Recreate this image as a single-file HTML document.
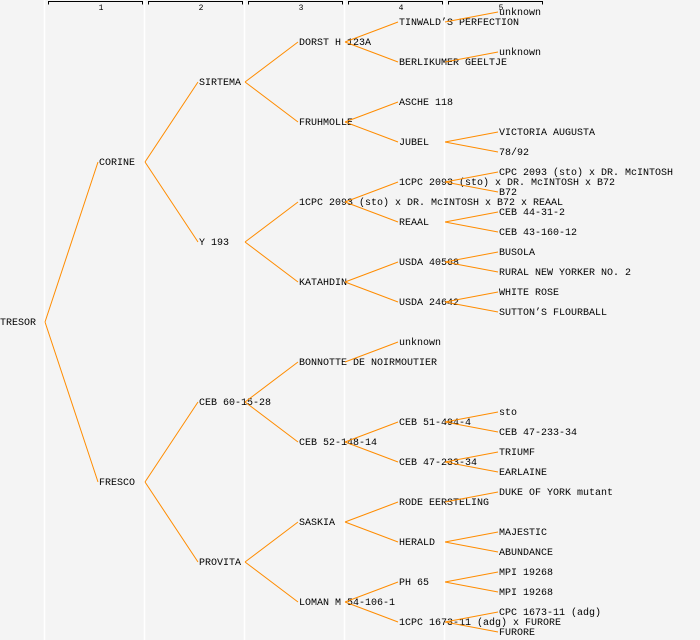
<!DOCTYPE html>
<html><head><meta charset="utf-8"><style>
html,body{margin:0;padding:0;background:#f4f4f4;}
svg{display:block;}
text{font-family:"Liberation Mono",monospace;font-size:10px;fill:#000;}
.h{font-size:8px;}
</style></head><body>
<svg width="700" height="640" viewBox="0 0 700 640" xmlns="http://www.w3.org/2000/svg">
<rect width="700" height="640" fill="#f4f4f4"/>
<g stroke="#ffffff" stroke-width="1.5">
<line x1="44.5" y1="0" x2="44.5" y2="640"/>
<line x1="144.5" y1="0" x2="144.5" y2="640"/>
<line x1="244.5" y1="0" x2="244.5" y2="640"/>
<line x1="344.5" y1="0" x2="344.5" y2="640"/>
<line x1="444.5" y1="0" x2="444.5" y2="640"/>
</g>
<g stroke="#000" stroke-width="1" fill="none">
<path d="M48.5 4.5V1.5H142.5V4.5"/>
<path d="M148.5 4.5V1.5H242.5V4.5"/>
<path d="M248.5 4.5V1.5H342.5V4.5"/>
<path d="M348.5 4.5V1.5H442.5V4.5"/>
<path d="M448.5 4.5V1.5H542.5V4.5"/>
</g>
<g class="h" text-anchor="middle">
<text class="h" x="101" y="10">1</text>
<text class="h" x="201" y="10">2</text>
<text class="h" x="301" y="10">3</text>
<text class="h" x="401" y="10">4</text>
<text class="h" x="501" y="10">5</text>
</g>
<g transform="translate(0,-1)">
<text x="0" y="326">TRESOR</text>
<text x="99" y="166">CORINE</text>
<text x="99" y="486">FRESCO</text>
<text x="199" y="86">SIRTEMA</text>
<text x="199" y="246">Y 193</text>
<text x="199" y="406">CEB 60-15-28</text>
<text x="199" y="566">PROVITA</text>
<text x="299" y="46">DORST H 123A</text>
<text x="299" y="126">FRUHMOLLE</text>
<text x="299" y="206">1CPC 2093 (sto) x DR. McINTOSH x B72 x REAAL</text>
<text x="299" y="286">KATAHDIN</text>
<text x="299" y="366">BONNOTTE DE NOIRMOUTIER</text>
<text x="299" y="446">CEB 52-148-14</text>
<text x="299" y="526">SASKIA</text>
<text x="299" y="606">LOMAN M 54-106-1</text>
<text x="399" y="26">TINWALD’S PERFECTION</text>
<text x="399" y="66">BERLIKUMER GEELTJE</text>
<text x="399" y="106">ASCHE 118</text>
<text x="399" y="146">JUBEL</text>
<text x="399" y="186">1CPC 2093 (sto) x DR. McINTOSH x B72</text>
<text x="399" y="226">REAAL</text>
<text x="399" y="266">USDA 40568</text>
<text x="399" y="306">USDA 24642</text>
<text x="399" y="346">unknown</text>
<text x="399" y="426">CEB 51-494-4</text>
<text x="399" y="466">CEB 47-233-34</text>
<text x="399" y="506">RODE EERSTELING</text>
<text x="399" y="546">HERALD</text>
<text x="399" y="586">PH 65</text>
<text x="399" y="626">1CPC 1673-11 (adg) x FURORE</text>
<text x="499" y="16">unknown</text>
<text x="499" y="56">unknown</text>
<text x="499" y="136">VICTORIA AUGUSTA</text>
<text x="499" y="156">78/92</text>
<text x="499" y="176">CPC 2093 (sto) x DR. McINTOSH</text>
<text x="499" y="196">B72</text>
<text x="499" y="216">CEB 44-31-2</text>
<text x="499" y="236">CEB 43-160-12</text>
<text x="499" y="256">BUSOLA</text>
<text x="499" y="276">RURAL NEW YORKER NO. 2</text>
<text x="499" y="296">WHITE ROSE</text>
<text x="499" y="316">SUTTON’S FLOURBALL</text>
<text x="499" y="416">sto</text>
<text x="499" y="436">CEB 47-233-34</text>
<text x="499" y="456">TRIUMF</text>
<text x="499" y="476">EARLAINE</text>
<text x="499" y="496">DUKE OF YORK mutant</text>
<text x="499" y="536">MAJESTIC</text>
<text x="499" y="556">ABUNDANCE</text>
<text x="499" y="576">MPI 19268</text>
<text x="499" y="596">MPI 19268</text>
<text x="499" y="616">CPC 1673-11 (adg)</text>
<text x="499" y="636">FURORE</text>
</g>
<g stroke="#ff8c00" stroke-width="1" fill="none">
<path d="M45 322L98 162M45 322L98 482"/>
<path d="M145 162L198 82M145 162L198 242M145 482L198 402M145 482L198 562"/>
<path d="M245 82L298 42M245 82L298 122M245 242L298 202M245 242L298 282M245 402L298 362M245 402L298 442M245 562L298 522M245 562L298 602"/>
<path d="M345 42L398 22M345 42L398 62M345 122L398 102M345 122L398 142M345 202L398 182M345 202L398 222M345 282L398 262M345 282L398 302M345 362L398 342M345 442L398 422M345 442L398 462M345 522L398 502M345 522L398 542M345 602L398 582M345 602L398 622"/>
<path d="M445 22L498 12M445 62L498 52M445 142L498 132M445 142L498 152M445 182L498 172M445 182L498 192M445 222L498 212M445 222L498 232M445 262L498 252M445 262L498 272M445 302L498 292M445 302L498 312M445 422L498 412M445 422L498 432M445 462L498 452M445 462L498 472M445 502L498 492M445 542L498 532M445 542L498 552M445 582L498 572M445 582L498 592M445 622L498 612M445 622L498 632"/>
</g>
</svg>
</body></html>
